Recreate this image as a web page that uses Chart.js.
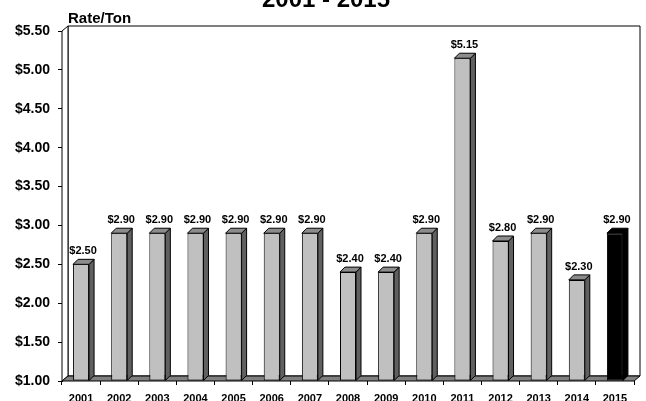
<!DOCTYPE html>
<html>
<head>
<meta charset="utf-8">
<script src="https://cdn.jsdelivr.net/npm/chart.js@4/dist/chart.umd.min.js"></script>
<style>
  html, body { margin: 0; padding: 0; background: #fff; }
  #wrap { width: 646px; height: 401px; }
</style>
</head>
<body>
<div id="wrap"><canvas id="rateChart"></canvas></div>
<script>
// chart data
const years = ['2001', '2002', '2003', '2004', '2005', '2006', '2007', '2008',
               '2009', '2010', '2011', '2012', '2013', '2014', '2015'];
const rates = [2.50, 2.90, 2.90, 2.90, 2.90, 2.90, 2.90, 2.40,
               2.40, 2.90, 5.15, 2.80, 2.90, 2.30, 2.90];
const yTicks = [1.00, 1.50, 2.00, 2.50, 3.00, 3.50, 4.00, 4.50, 5.00, 5.50];

const FONT = 'Liberation Sans, Arial, sans-serif';
const WALL_DX = 6, WALL_DY = 5;   // depth of walls / floor
const BAR_DX = 5, BAR_DY = 5;     // depth of bars

function poly(ctx, pts, fill) {
    ctx.beginPath();
    ctx.moveTo(pts[0][0], pts[0][1]);
    for (let i = 1; i < pts.length; i++) ctx.lineTo(pts[i][0], pts[i][1]);
    ctx.closePath();
    if (fill) { ctx.fillStyle = fill; ctx.fill(); }
    ctx.stroke();
}

// walls + floor behind the bars
const wallsPlugin = {
    id: 'walls',
    beforeDatasetsDraw(chart) {
        const { ctx, chartArea: a } = chart;
        ctx.save();
        ctx.strokeStyle = '#000';
        ctx.lineWidth = 1;
        // back wall
        poly(ctx, [[a.left + WALL_DX, a.top - WALL_DY], [a.right + WALL_DX, a.top - WALL_DY],
                   [a.right + WALL_DX, a.bottom - WALL_DY], [a.left + WALL_DX, a.bottom - WALL_DY]], '#fff');
        // left wall
        poly(ctx, [[a.left, a.bottom], [a.left, a.top], [a.left + WALL_DX, a.top - WALL_DY],
                   [a.left + WALL_DX, a.bottom - WALL_DY]], '#fff');
        // floor
        poly(ctx, [[a.left, a.bottom], [a.right, a.bottom], [a.right + WALL_DX, a.bottom - WALL_DY],
                   [a.left + WALL_DX, a.bottom - WALL_DY]], '#808080');
        ctx.restore();
    }
};

// side / top faces and value labels
const bars3dPlugin = {
    id: 'bars3d',
    afterDatasetsDraw(chart) {
        const ctx = chart.ctx;
        const meta = chart.getDatasetMeta(0);
        ctx.save();
        ctx.strokeStyle = '#000';
        ctx.lineWidth = 1;
        meta.data.forEach((bar, i) => {
            const left = bar.x - bar.width / 2, right = bar.x + bar.width / 2;
            const top = bar.y, base = Math.min(bar.base, chart.chartArea.bottom);
            const last = i === rates.length - 1;
            // side face
            poly(ctx, [[right, top], [right + BAR_DX, top - BAR_DY], [right + BAR_DX, base - BAR_DY], [right, base]],
                 last ? '#000' : '#606060');
            // top face
            poly(ctx, [[left, top], [left + BAR_DX, top - BAR_DY], [right + BAR_DX, top - BAR_DY], [right, top]],
                 last ? '#000' : '#8c8c8c');
            // value label
            ctx.fillStyle = '#000';
            ctx.font = 'bold 11px ' + FONT;
            ctx.textAlign = 'center';
            ctx.textBaseline = 'alphabetic';
            ctx.fillText('$' + rates[i].toFixed(2), bar.x + 2, top - 10);
        });
        ctx.restore();
    },
    afterDraw(chart) {
        const ctx = chart.ctx;
        ctx.save();
        ctx.fillStyle = '#000';
        ctx.textBaseline = 'alphabetic';
        ctx.font = 'bold 24px ' + FONT;
        ctx.textAlign = 'center';
        ctx.fillText('2001 - 2015', 326, 7);
        ctx.font = 'bold 15px ' + FONT;
        ctx.textAlign = 'left';
        ctx.fillText('Rate/Ton', 68, 23);
        ctx.restore();
    }
};

const ctx = document.getElementById('rateChart').getContext('2d');
new Chart(ctx, {
    type: 'bar',
    data: {
        labels: years,
        datasets: [{
            data: rates,
            base: 1,
            backgroundColor: rates.map((v, i) => i === rates.length - 1 ? '#000000' : '#c0c0c0'),
            borderColor: '#000',
            borderWidth: 1,
            borderSkipped: false,
            barPercentage: 0.42,
            categoryPercentage: 1.0
        }]
    },
    options: {
        responsive: true,
        maintainAspectRatio: false,
        animation: false,
        layout: { padding: { top: 31, right: 12, left: 0, bottom: 0 } },
        plugins: { legend: { display: false }, tooltip: { enabled: false }, title: { display: false } },
        scales: {
            x: {
                grid: { drawOnChartArea: false, drawTicks: true, tickLength: 4, color: '#000', offset: true },
                border: { display: false },
                ticks: { color: '#000', font: { family: FONT, size: 11, weight: 'bold' }, padding: 7, maxRotation: 0 },
                afterFit(scale) { scale.height = 20; }
            },
            y: {
                min: 1,
                max: 5.5,
                afterBuildTicks(scale) { scale.ticks = yTicks.map(v => ({ value: v })); },
                grid: { drawOnChartArea: false, drawTicks: true, tickLength: 4, color: '#000' },
                border: { display: true, color: '#000', width: 1 },
                ticks: {
                    color: '#000',
                    padding: 8,
                    font: { family: FONT, size: 14, weight: 'bold' },
                    callback: v => '$' + Number(v).toFixed(2)
                },
                afterFit(scale) { scale.width = 62; }
            }
        }
    },
    plugins: [wallsPlugin, bars3dPlugin]
});
</script>
</body>
</html>
